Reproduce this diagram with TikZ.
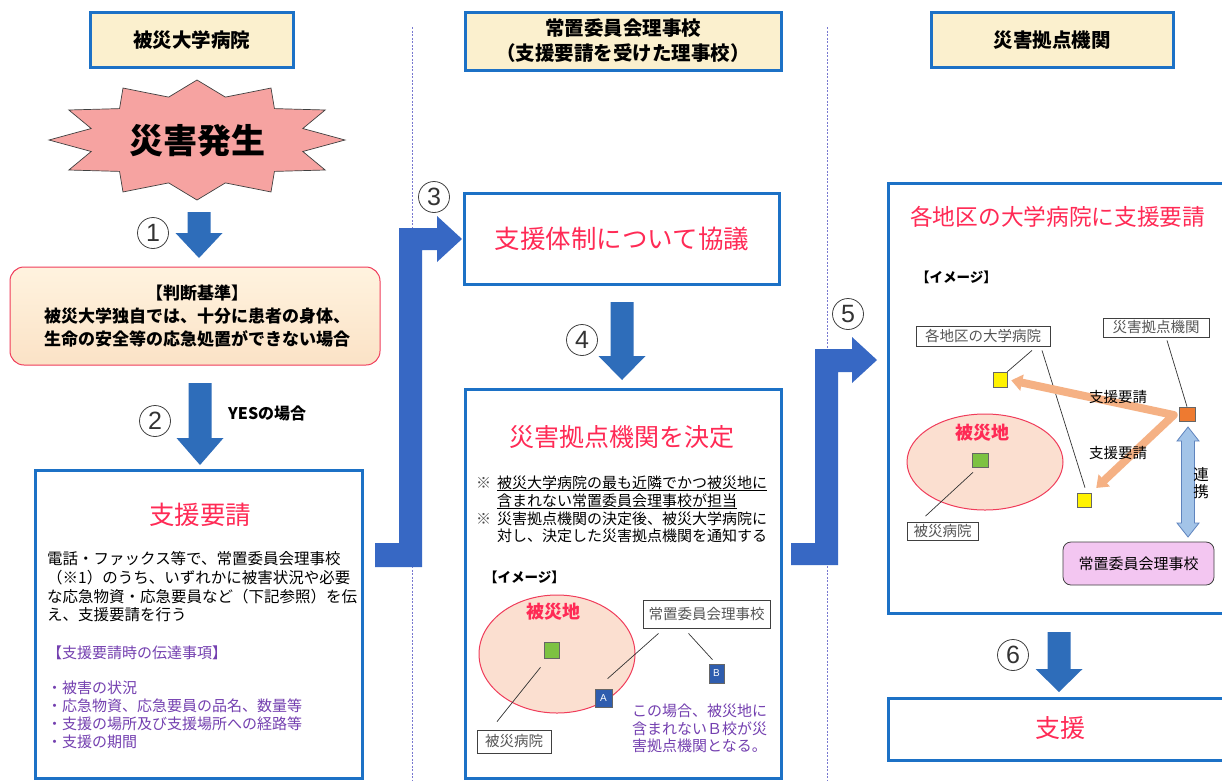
\documentclass[tikz,border=0pt]{standalone}
\usepackage{fontspec}
\setmainfont{Noto Sans CJK JP}
\newfontfamily\digitfont{Liberation Sans}
\usetikzlibrary{arrows.meta,calc}
\definecolor{boxblue}{HTML}{1C71C6}
\definecolor{headfill}{HTML}{FBF0CE}
\definecolor{titlered}{HTML}{FF2A55}
\definecolor{arrblue}{HTML}{2E6DBA}
\definecolor{bentblue}{HTML}{3768C4}
\definecolor{burstfill}{HTML}{F6A3A1}
\definecolor{purp}{HTML}{7440B0}
\definecolor{lblgrey}{HTML}{555555}
\definecolor{sepcol}{HTML}{7878D0}
\definecolor{zonefill}{HTML}{FBDFD0}
\definecolor{zoneline}{HTML}{F03C5A}
\definecolor{sqgreen}{HTML}{7DC242}
\definecolor{sqorange}{HTML}{EE7A30}
\definecolor{sqblue}{HTML}{2F5DAE}
\definecolor{orarrow}{HTML}{F5B184}
\definecolor{linkfill}{HTML}{A3C4E8}
\definecolor{linkline}{HTML}{5F84BE}
\definecolor{pinkfill}{HTML}{F3C6F1}
\definecolor{judgetop}{HTML}{FFF3DF}
\definecolor{judgebot}{HTML}{FBE2C6}
\newcommand\fsz[1]{\fontsize{#1}{#1}\selectfont}
\tikzset{pics/dnarr/.style 2 args={code={\fill[arrblue] (-11.5,0) -- (11.5,0) -- (11.5,#1) -- (23.5,#1) -- (0,{#1+#2}) -- (-23.5,#1) -- (-11.5,#1) -- cycle;}}}
\begin{document}
\begin{tikzpicture}[x=1pt,y=-1pt,
  header/.style={draw=boxblue,line width=3,fill=headfill,align=center,font=\bfseries\fontsize{19.5}{25}\selectfont,inner sep=0},
  bluebox/.style={draw=boxblue,line width=3,fill=white,inner sep=0},
  circ/.style={circle,draw=black!75,line width=0.8,fill=white,minimum size=31,inner sep=0,font=\digitfont\fsz{25},text=black!80},
  ln/.style={anchor=base west,inner sep=0},
  lbl/.style={draw=black!75,line width=0.8,fill=white,inner sep=0,text=lblgrey,font=\fsz{14.5}},
  thinline/.style={draw=black!80,line width=0.7},
  sq/.style={draw=black!60,line width=0.6,inner sep=0},
  zone/.style={draw=zoneline,line width=1,fill=zonefill},
  orarr/.style={draw=orarrow,line width=8,line join=round,-{Triangle[length=12,width=18]}}
]
\path[use as bounding box] (0,0) rectangle (1222,780);
\fill[white] (0,0) rectangle (1222,780);
\clip (0,0) rectangle (1222,780);

% separators
\draw[sepcol,line width=0.6,dash pattern=on 2pt off 1.5pt] (412,27) -- (412,780);
\draw[sepcol,line width=0.6,dash pattern=on 2pt off 1.5pt] (827,27) -- (827,780);

% headers
\node[header,minimum width=203,minimum height=55] (h1) at (191.5,40) {被災大学病院};
\node[header,minimum width=316,minimum height=58] (h2) at (623,41) {常置委員会理事校\\（支援要請を受けた理事校）};
\node[header,minimum width=242,minimum height=55] (h3) at (1052,40) {災害拠点機関};

% burst
\draw[fill=burstfill,draw=black!75,line width=0.7] (345,140) \foreach \i in {1,...,23}{ -- ({197+148*(0.87+0.13*cos(180*\i))*cos(15*\i)},{140-60*(0.87+0.13*cos(180*\i))*sin(15*\i)}) } -- cycle;
\node[font=\bfseries\fsz{34}] (burst) at (197,141) {災害発生};

% down arrows
\pic (a1) at (199,212) {dnarr={21}{25}};
\pic (a2) at (200,383) {dnarr={55}{27}};
\pic (a4) at (622,302) {dnarr={54}{24}};
\pic (a6) at (1059,632) {dnarr={37}{23}};

% bent arrows
\fill[bentblue] (375,543) -- (399,543) -- (399,228) -- (437,228) -- (437,216) -- (462,239) -- (437,262) -- (437,250) -- (422,250) -- (422,567) -- (375,567) -- cycle;
\fill[bentblue] (791,543) -- (815,543) -- (815,349) -- (852,349) -- (852,337) -- (877,360) -- (852,383) -- (852,372) -- (838,372) -- (838,565) -- (791,565) -- cycle;

% circled numbers
\node[circ] (c1) at (153,233) {1};
\node[circ] (c2) at (155,421) {2};
\node[circ] (c3) at (434,197) {3};
\node[circ] (c4) at (582,340) {4};
\node[circ] (c5) at (848,314) {5};
\node[circ] (c6) at (1013,655) {6};

% judgement box
\node[draw=zoneline,line width=1,rounded corners=14,top color=judgetop,bottom color=judgebot,minimum width=370,minimum height=98,inner sep=0] (judge) at (195,316) {};
\node[font=\bfseries\fontsize{17}{23}\selectfont,align=center,inner sep=0] (judget) at (197,316) {【判断基準】\\被災大学独自では、十分に患者の身体、\\生命の安全等の応急処置ができない場合};
\node[font=\bfseries\fsz{16},anchor=west,inner sep=0] (yes) at (228,413) {YESの場合};

% request box
\node[bluebox,minimum width=327,minimum height=308] (req) at (198.5,624) {};
\node[font=\fsz{25.5},text=titlered,inner sep=0] (reqt) at (200,515) {支援要請};
\begin{scope}[font=\fsz{15.5}]
\node[ln] (r1) at (47,564) {電話・ファックス等で、常置委員会理事校};
\node[ln] (r2) at (47,583) {（※1）のうち、いずれかに被害状況や必要};
\node[ln] (r3) at (47,602) {な応急物資・応急要員など（下記参照）を伝};
\node[ln] (r4) at (47,620) {え、支援要請を行う};
\end{scope}
\begin{scope}[font=\fsz{15},text=purp]
\node[ln] (p0) at (47,658) {【支援要請時の伝達事項】};
\node[ln] (p1) at (47,693) {・被害の状況};
\node[ln] (p2) at (47,711) {・応急物資、応急要員の品名、数量等};
\node[ln] (p3) at (47,729) {・支援の場所及び支援場所への経路等};
\node[ln] (p4) at (47,747) {・支援の期間};
\end{scope}

% discussion box
\node[bluebox,minimum width=315,minimum height=91] (disc) at (621.5,238.5) {};
\node[font=\fsz{25.5},text=titlered,inner sep=0] (disct) at (622,239) {支援体制について協議};

% decision box
\node[bluebox,minimum width=316,minimum height=389] (dec) at (623,583.5) {};
\node[font=\fsz{25},text=titlered,inner sep=0] (dect) at (622,437) {災害拠点機関を決定};
\begin{scope}[font=\fsz{15}]
\node[ln,text=black!70] (m1) at (476,488) {※};
\node[ln] (n1) at (497,488) {\underline{被災大学病院の最も近隣でかつ被災地に}};
\node[ln] (n2) at (497,506) {\underline{含まれない常置委員会理事校が担当}};
\node[ln,text=black!70] (m2) at (476,524) {※};
\node[ln] (n3) at (497,524) {災害拠点機関の決定後、被災大学病院に};
\node[ln] (n4) at (497,541) {対し、決定した災害拠点機関を通知する};
\end{scope}
\node[ln,font=\bfseries\fsz{13.5}] (img1) at (484,582) {【イメージ】};
\draw[zone] (557,654) ellipse [x radius=78, y radius=59];
\node[font=\bfseries\fsz{18},text=titlered,inner sep=0] (z1) at (553,612) {被災地};
\node[sq,fill=sqgreen,minimum width=15,minimum height=16] (g1) at (551.5,650) {};
\node[lbl,minimum width=74,minimum height=23] (hl1) at (514,741.5) {被災病院};
\draw[thinline] ($(g1.south)+(-11,9)$) -- ($(hl1.north)+(-17,-8)$);
\node[lbl,minimum width=127,minimum height=28] (sl1) at (706.5,614) {常置委員会理事校};
\node[sq,fill=sqblue,minimum width=17,minimum height=18,text=white,font=\digitfont\fsz{10}] (sa) at (603.5,698) {A};
\node[sq,fill=sqblue,minimum width=15,minimum height=19,text=white,font=\digitfont\fsz{10}] (sb) at (716.5,673.5) {B};
\draw[thinline] ($(sl1.south)+(-48,5)$) -- ($(sa.north)+(4,-10)$);
\draw[thinline] ($(sl1.south)+(-18,5)$) -- ($(sb.north)+(-4,-4)$);
\begin{scope}[font=\fsz{15},text=purp]
\node[ln] (q1) at (632,716) {この場合、被災地に};
\node[ln] (q2) at (632,734) {含まれないＢ校が災};
\node[ln] (q3) at (632,751) {害拠点機関となる。};
\end{scope}

% right panel
\node[bluebox,minimum width=352,minimum height=430] (sup) at (1064,398) {};
\node[ln,font=\fsz{22.7},text=titlered] (supt) at (910,225) {各地区の大学病院に支援要請};
\node[ln,font=\bfseries\fsz{13.5}] (img2) at (916,282) {【イメージ】};
\node[lbl,minimum width=134,minimum height=20] (lab1) at (983,336) {各地区の大学病院};
\node[lbl,minimum width=106,minimum height=19] (lab2) at (1156,327.5) {災害拠点機関};
\node[sq,fill=yellow,minimum width=14,minimum height=15] (y1) at (1000,379.5) {};
\node[sq,fill=yellow,minimum width=14,minimum height=14] (y2) at (1084,500) {};
\node[sq,fill=sqorange,minimum width=16,minimum height=14] (osq) at (1187,414) {};
\draw[thinline] ($(lab1.south)+(49,4)$) -- (y1.north east);
\draw[thinline] ($(lab1.south)+(59,4)$) -- ($(y2.north)+(1,-5)$);
\draw[thinline] ($(lab2.south)+(11,3)$) -- (osq.north);
\draw[orarr,{Triangle[length=11,width=16]}-{Triangle[length=11,width=16]},shorten <=4,shorten >=4] (y1.east) -- ($(osq.west)+(-5,1)$) -- ($(y2.north east)+(2,-2)$);
\node[font=\fsz{14.5},inner sep=0] (sr1) at (1118,397) {支援要請};
\node[font=\fsz{14.5},inner sep=0] (sr2) at (1118,453) {支援要請};
\draw[zone] (985,462) ellipse [x radius=78, y radius=48];
\node[font=\bfseries\fsz{18},text=titlered,inner sep=0] (z2) at (982,433) {被災地};
\node[sq,fill=sqgreen,minimum width=16,minimum height=14] (g2) at (980,460) {};
\node[lbl,minimum width=71,minimum height=18] (hl2) at (942.5,531.5) {被災病院};
\draw[thinline] ($(g2.south)+(-7,5)$) -- ($(hl2.north)+(-17,-6)$);
\draw[fill=linkfill,draw=linkline,line width=0.8] (1188,427) -- (1199,441) -- (1194.5,441) -- (1194.5,523) -- (1199,523) -- (1188,537) -- (1177,523) -- (1181.5,523) -- (1181.5,441) -- (1177,441) -- cycle;
\node[font=\fontsize{15.5}{17}\selectfont,align=center,inner sep=0] (rk) at (1201,483.5) {連\\携};
\node[draw=black!75,line width=0.8,rounded corners=8,fill=pinkfill,minimum width=151,minimum height=43,inner sep=0,font=\fsz{15}] (pk) at (1138.5,563.5) {常置委員会理事校};

% final
\node[bluebox,minimum width=352,minimum height=62] (fin) at (1064,729) {};
\node[font=\fsz{25},text=titlered,inner sep=0] (fint) at (1060,728) {支援};
\end{tikzpicture}
\end{document}
